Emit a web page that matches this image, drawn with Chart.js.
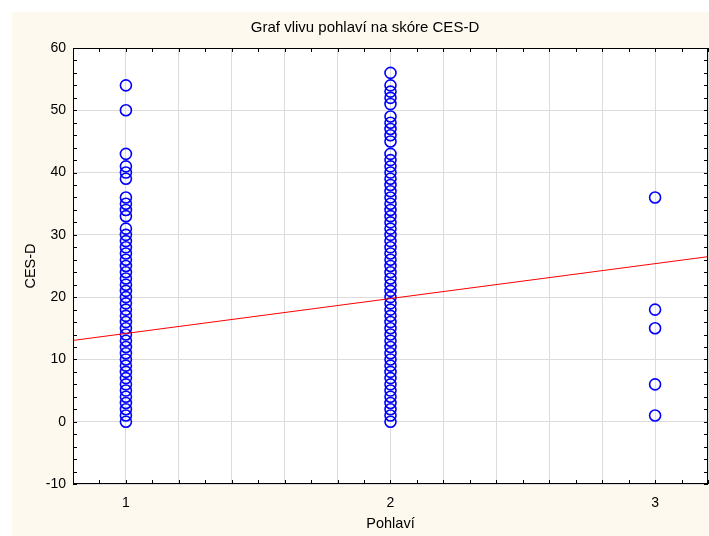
<!DOCTYPE html>
<html><head><meta charset="utf-8">
<script src="https://cdn.jsdelivr.net/npm/chart.js@4/dist/chart.umd.min.js"></script>
<style>html,body{margin:0;padding:0;background:#fff;overflow:hidden;}#wrap{width:709px;height:536px;}canvas{display:block;}</style>
</head><body><div id="wrap"><canvas id="c" width="709" height="536"></canvas></div>
<script>
// ---- data ----
const chartTitle = 'Graf vlivu pohlaví na skóre CES-D';
const categories = [1, 2, 3];
const xTickLabels = ['1', '2', '3'];
const group1Scores = [54, 50, 43, 41, 40, 39, 36, 35, 34, 33, 31, 30, 29, 28, 27, 26, 25, 24, 23, 22, 21, 20, 19, 18, 17, 16, 15, 14, 13, 12, 11, 10, 9, 8, 7, 6, 5, 4, 3, 2, 1, 0];
const group2Scores = [56, 54, 53, 52, 51, 49, 48, 47, 46, 45, 43, 42, 41, 40, 39, 38, 37, 36, 35, 34, 33, 32, 31, 30, 29, 28, 27, 26, 25, 24, 23, 22, 21, 20, 19, 18, 17, 16, 15, 14, 13, 12, 11, 10, 9, 8, 7, 6, 5, 4, 3, 2, 1, 0];
const group3Scores = [36, 18, 15, 6, 1];
const regressionX = [0.8, 3.2];
const regressionY = [13.05, 26.5];
const yTickValues = [-10, 0, 10, 20, 30, 40, 50, 60];

const groups = [group1Scores, group2Scores, group3Scores];
const scatterPoints = [];
groups.forEach((g, i) => g.forEach(v => scatterPoints.push({x: categories[i], y: v})));
const regressionPoints = regressionX.map((x, i) => ({x: x, y: regressionY[i]}));

const FONT = 'Liberation Sans, Arial, sans-serif';

const bgPlugin = {
  id: 'bg',
  beforeDraw(chart) {
    const ctx = chart.ctx, a = chart.chartArea;
    ctx.save();
    ctx.fillStyle = '#ffffff';
    ctx.fillRect(0, 0, chart.width, chart.height);
    ctx.fillStyle = '#fdf9ee';
    ctx.fillRect(12, 12, chart.width - 12, chart.height - 12);
    ctx.fillStyle = '#ffffff';
    ctx.fillRect(a.left, a.top, a.right - a.left, a.bottom - a.top);
    ctx.fillStyle = '#000';
    ctx.font = '15px ' + FONT;
    ctx.textAlign = 'center';
    ctx.textBaseline = 'middle';
    ctx.fillText(chartTitle, 365, 28);
    ctx.restore();
  },
  afterDraw(chart) {
    const ctx = chart.ctx, a = chart.chartArea;
    const xs = chart.scales.x, ys = chart.scales.y;
    ctx.save();
    ctx.strokeStyle = '#000';
    ctx.lineWidth = 1;
    ctx.beginPath();
    for (let k = 8; k <= 32; k++) {
      const px = Math.round(xs.getPixelForValue(k / 10)) + 0.5;
      ctx.moveTo(px, a.bottom); ctx.lineTo(px, a.bottom - 4);
      ctx.moveTo(px, a.top); ctx.lineTo(px, a.top + 4);
    }
    for (let v = -10; v <= 60; v += 2) {
      const py = Math.round(ys.getPixelForValue(v)) + 0.5;
      ctx.moveTo(a.left, py); ctx.lineTo(a.left + 4, py);
      ctx.moveTo(a.right, py); ctx.lineTo(a.right - 4, py);
    }
    ctx.stroke();
    ctx.strokeRect(a.left + 0.5, a.top + 0.5, a.right - a.left - 1, a.bottom - a.top - 1);
    ctx.restore();
  }
};

new Chart(document.getElementById('c'), {
  data: {
    datasets: [
      {
        type: 'line',
        data: regressionPoints,
        borderColor: '#ff0000',
        borderWidth: 1,
        pointRadius: 0,
        order: 0
      },
      {
        type: 'scatter',
        data: scatterPoints,
        borderColor: '#0000ff',
        backgroundColor: 'rgba(0,0,0,0)',
        borderWidth: 1.6,
        pointRadius: 5.5,
        pointHoverRadius: 5.5,
        order: 1
      }
    ]
  },
  options: {
    responsive: false,
    animation: false,
    events: [],
    layout: {autoPadding: false, padding: {left: 0, right: 1, top: 48, bottom: 0}},
    plugins: {
      legend: {display: false},
      tooltip: {enabled: false},
      title: {display: false}
    },
    scales: {
      x: {
        type: 'linear',
        min: 0.8,
        max: 3.2,
        afterBuildTicks(scale) {
          const t = [];
          for (let k = 8; k <= 32; k += 2) t.push({value: k / 10});
          scale.ticks = t;
        },
        afterFit(scale) {
          scale.height = 52;
          scale.paddingLeft = 0;
          scale.paddingRight = 0;
        },
        grid: {color: '#dcdcdc', lineWidth: 1, drawTicks: true, tickLength: 11, tickColor: 'rgba(0,0,0,0)'},
        border: {display: false},
        ticks: {
          padding: 0,
          color: '#000',
          font: {family: FONT, size: 14},
          maxRotation: 0,
          autoSkip: false,
          callback(value) {
            const r = Math.round(value * 10) / 10;
            const i = categories.indexOf(r);
            return i >= 0 ? xTickLabels[i] : '';
          }
        },
        title: {
          display: true,
          text: 'Pohlaví',
          color: '#000',
          font: {family: FONT, size: 14.5},
          padding: {top: 0, bottom: 3}
        }
      },
      y: {
        type: 'linear',
        min: -10,
        max: 60,
        afterBuildTicks(scale) { scale.ticks = yTickValues.map(v => ({value: v})); },
        afterFit(scale) { scale.width = 73; },
        grid: {color: '#dcdcdc', lineWidth: 1, drawTicks: false},
        border: {display: false},
        ticks: {
          padding: 7,
          color: '#000',
          font: {family: FONT, size: 14}
        },
        title: {
          display: true,
          text: 'CES-D',
          color: '#000',
          font: {family: FONT, size: 14.5},
          padding: {top: 22, bottom: 0}
        }
      }
    }
  },
  plugins: [bgPlugin]
});
</script>
</body></html>
